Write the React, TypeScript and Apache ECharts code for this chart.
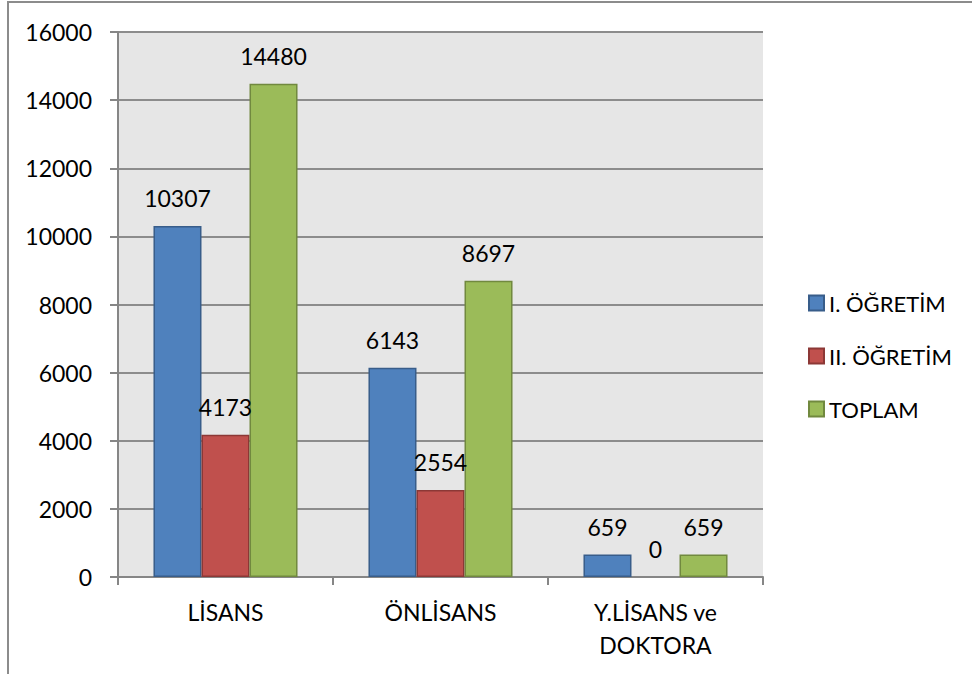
import React, { useEffect, useRef } from "react";
import * as echarts from "echarts";

const categories = ["LİSANS", "ÖNLİSANS", "Y.LİSANS ve\nDOKTORA"];
const seriesNames = ["I. ÖĞRETİM", "II. ÖĞRETİM", "TOPLAM"];
const ogretim1 = [10307, 6143, 659];
const ogretim2 = [4173, 2554, 0];
const toplam = [14480, 8697, 659];
const fills = ["#4F81BD", "#C0504D", "#9BBB59"];
const borders = ["#385D8A", "#8C3836", "#71893F"];

const FONT = "Lato";

export default function App() {
  const ref = useRef<HTMLDivElement>(null);
  useEffect(() => {
    if (!ref.current) return;
    const chart = echarts.init(ref.current, null, { renderer: "svg" });
    const values = [ogretim1, ogretim2, toplam];
    chart.setOption({
      animation: false,
      backgroundColor: "#ffffff",
      textStyle: { fontFamily: FONT },
      graphic: [
        {
          type: "rect",
          shape: { x: 8, y: 2, width: 1000, height: 700 },
          style: { fill: "none", stroke: "#8c8c8c", lineWidth: 2 },
          silent: true,
          z: 100,
        },
      ],
      grid: {
        left: 118,
        top: 32,
        width: 645,
        height: 545,
        show: true,
        backgroundColor: "#e6e6e6",
        borderWidth: 0,
        containLabel: false,
      },
      legend: {
        orient: "vertical",
        left: 803,
        top: 287,
        itemWidth: 15,
        itemHeight: 15,
        itemGap: 31,
        icon: "rect",
        textStyle: { fontFamily: FONT, fontSize: 22, color: "#000", lineHeight: 22 },
        data: seriesNames,
      },
      xAxis: {
        type: "category",
        data: categories,
        axisLine: { show: true, lineStyle: { color: "#868686", width: 2 } },
        axisTick: { show: true, length: 8, alignWithLabel: false, lineStyle: { color: "#868686", width: 2 } },
        axisLabel: {
          color: "#000",
          fontFamily: FONT,
          fontSize: 23,
          lineHeight: 33,
          margin: 18,
          interval: 0,
        },
      },
      yAxis: {
        type: "value",
        min: 0,
        max: 16000,
        interval: 2000,
        axisLine: { show: true, lineStyle: { color: "#868686", width: 2 } },
        axisTick: { show: true, length: 8, lineStyle: { color: "#868686", width: 2 } },
        splitLine: { show: true, lineStyle: { color: "#8c8c8c", width: 2 } },
        axisLabel: {
          color: "#000",
          fontFamily: FONT,
          fontSize: 23,
          margin: 26,
          formatter: (v: number) => String(v),
        },
      },
      series: seriesNames.map((name, i) => ({
        name,
        type: "bar",
        data: values[i].map((v) =>
          v === 0
            ? { value: v, itemStyle: { borderWidth: 0, color: "rgba(0,0,0,0)" } }
            : v
        ),
        barGap: "0%",
        barCategoryGap: "33%",
        itemStyle: { color: fills[i], borderColor: borders[i], borderWidth: 1.5 },
        label: {
          show: true,
          position: "top",
          distance: 16,
          color: "#000",
          fontFamily: FONT,
          fontSize: 23,
          lineHeight: 24,
        },
      })),
    });
    return () => chart.dispose();
  }, []);
  return (
    <div
      ref={ref}
      style={{ position: "fixed", left: 0, top: 0, width: 972, height: 674 }}
    />
  );
}
